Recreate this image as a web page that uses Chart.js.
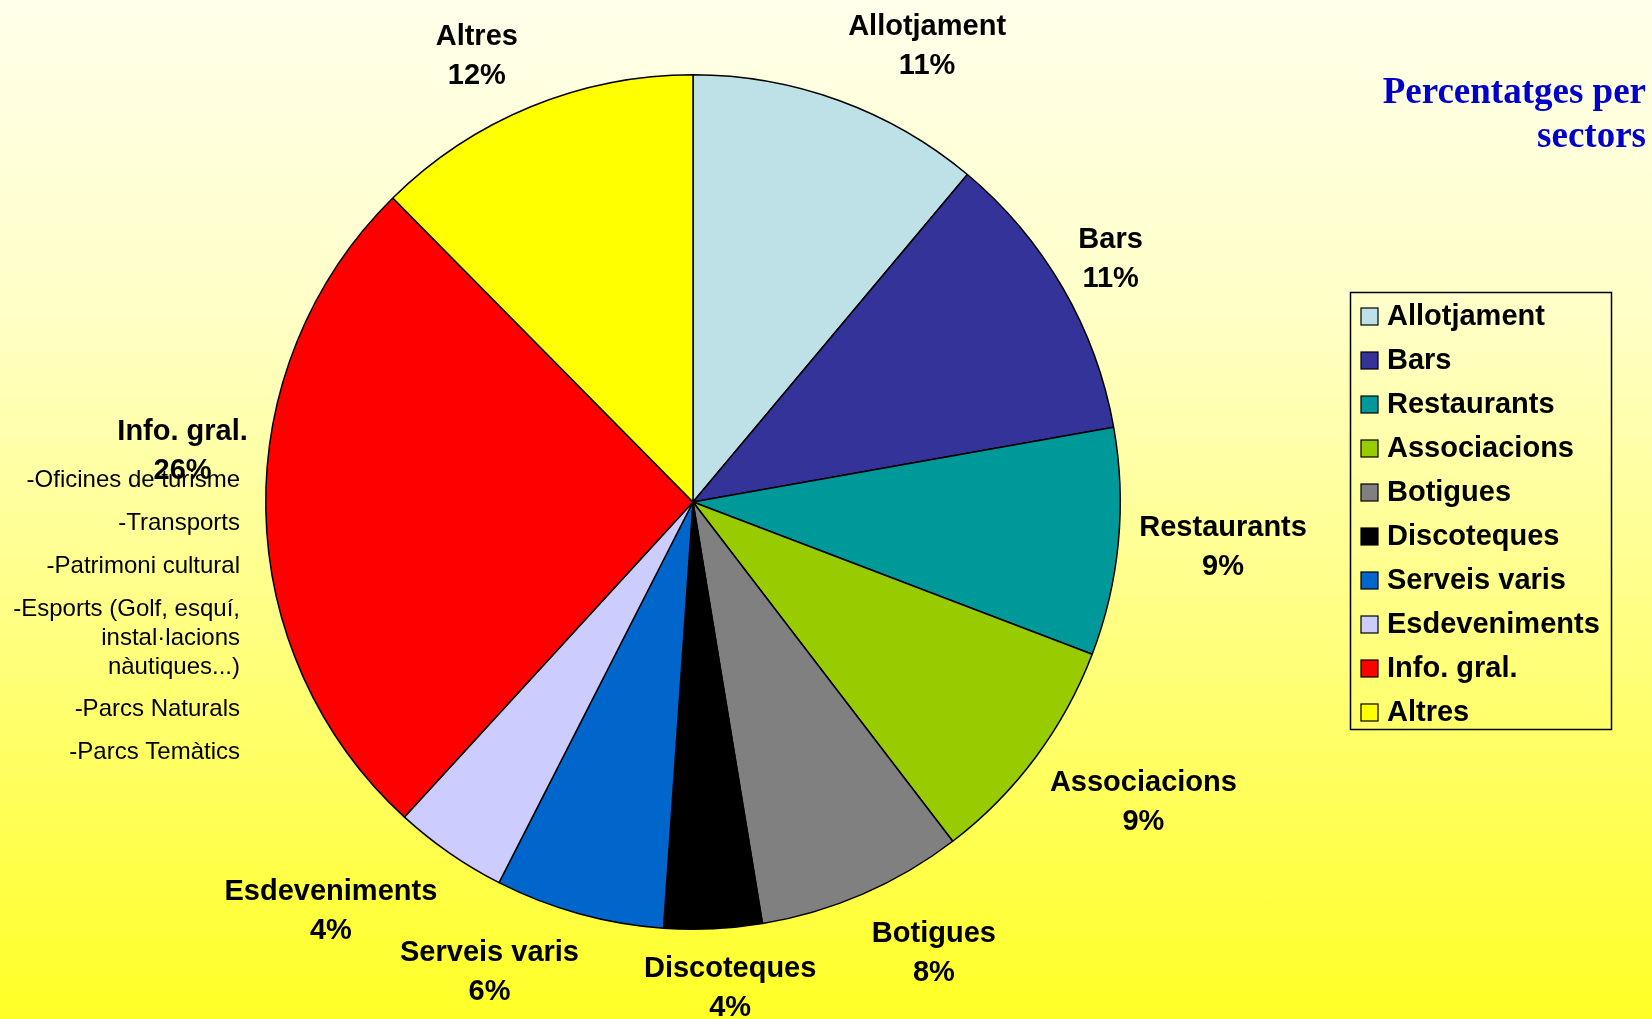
<!DOCTYPE html>
<html>
<head>
<meta charset="utf-8">
<title>Percentatges per sectors</title>
<script src="https://cdn.jsdelivr.net/npm/chart.js@4.4.1/dist/chart.umd.min.js"></script>
<style>
    html, body {
        margin: 0;
        padding: 0;
    }
    #wrap {
        position: relative;
        width: 1652px;
        height: 1019px;
        background: linear-gradient(to bottom, #ffffeb 0%, #ffffc8 30%, #ffff7a 65%, #ffff26 100%);
    }
</style>
</head>
<body>
<div id="wrap">
    <canvas id="sectorChart"></canvas>
</div>
<script>
const sectors = ['Allotjament', 'Bars', 'Restaurants', 'Associacions', 'Botigues', 'Discoteques', 'Serveis varis', 'Esdeveniments', 'Info. gral.', 'Altres'];
const shares = [11.1, 11.1, 8.6, 8.8, 7.8, 3.7, 6.4, 4.3, 25.8, 12.4];
const sliceColors = ['#bde1e6', '#333399', '#009999', '#99cc00', '#808080', '#000000', '#0066cc', '#ccccff', '#ff0000', '#ffff00'];
const titleLines = ['Percentatges per', 'sectors'];
const infoLines = ['-Oficines de turisme', '-Transports', '-Patrimoni cultural', '-Esports (Golf, esquí,', 'instal·lacions', 'nàutiques...)', '-Parcs Naturals', '-Parcs Temàtics'];
const infoLineY = [480, 523, 566, 609, 638, 667, 709, 752];

const LABEL_FONT = 'bold 29px "Liberation Sans", Arial, sans-serif';

// small hand tweaks of label placement, as in the original (Info. gral. was moved up)
const labelNudge = {
    0: [3, -4],
    1: [0, 14],
    2: [3, -7],
    4: [2, 8],
    5: [4, 7],
    6: [-13, 7],
    7: [-2, 9],
    8: [0, -61],
    9: [-6, 0]
};

const sliceLabels = {
    id: 'sliceLabels',
    afterDatasetsDraw(chart) {
        const ctx = chart.ctx;
        const meta = chart.getDatasetMeta(0);
        const total = shares.reduce((a, b) => a + b, 0);

        ctx.save();
        ctx.font = LABEL_FONT;
        ctx.fillStyle = '#000';
        ctx.textAlign = 'center';
        ctx.textBaseline = 'middle';

        meta.data.forEach((arc, i) => {
            const p = arc.getProps(['x', 'y', 'startAngle', 'endAngle', 'outerRadius'], true);
            const mid = (p.startAngle + p.endAngle) / 2;
            const ux = Math.cos(mid);
            const uy = Math.sin(mid);
            const r = p.outerRadius + 18;
            const name = sectors[i];
            const pct = Math.round(shares[i] / total * 100) + '%';
            const w = Math.max(ctx.measureText(name).width, ctx.measureText(pct).width);
            const h = 68;
            const sx = Math.max(-1, Math.min(1, ux * 3));
            const sy = Math.max(-1, Math.min(1, uy * 3));
            let cx = p.x + r * ux + sx * w / 2;
            let cy = p.y + r * uy + sy * h / 2;
            if (labelNudge[i]) {
                cx += labelNudge[i][0];
                cy += labelNudge[i][1];
            }
            ctx.fillText(name, cx, cy - 19);
            ctx.fillText(pct, cx, cy + 20);
        });
        ctx.restore();
    },
    afterDraw(chart) {
        const ctx = chart.ctx;
        ctx.save();

        // legend box
        ctx.strokeStyle = '#000';
        ctx.lineWidth = 1.5;
        ctx.strokeRect(1350.5, 292.5, 261, 437);
        ctx.font = LABEL_FONT;
        ctx.textAlign = 'left';
        ctx.textBaseline = 'middle';
        sectors.forEach((name, i) => {
            const y = 316 + i * 44;
            ctx.fillStyle = sliceColors[i];
            ctx.fillRect(1361, y - 8, 17, 17);
            ctx.lineWidth = 1.2;
            ctx.strokeStyle = '#000';
            ctx.strokeRect(1361, y - 8, 17, 17);
            ctx.fillStyle = '#000';
            ctx.fillText(name, 1387, y + 1);
        });

        // title
        ctx.font = 'bold 37px "Liberation Serif", "Times New Roman", serif';
        ctx.fillStyle = '#0000cc';
        ctx.textAlign = 'right';
        titleLines.forEach((line, i) => {
            ctx.fillText(line, 1646, 93 + i * 44);
        });

        // Info. gral. breakdown
        ctx.font = '24px "Liberation Sans", Arial, sans-serif';
        ctx.fillStyle = '#000';
        infoLines.forEach((line, i) => {
            ctx.fillText(line, 240, infoLineY[i]);
        });
        ctx.restore();
    }
};

let sectorChart;

function drawChart() {
    const chartCtx = document.getElementById('sectorChart').getContext('2d');

    sectorChart = new Chart(chartCtx, {
        type: 'pie',
        data: {
            labels: sectors,
            datasets: [{
                data: shares,
                backgroundColor: sliceColors,
                borderColor: '#000',
                borderWidth: 1.5
            }]
        },
        options: {
            responsive: true,
            maintainAspectRatio: false,
            animation: false,
            layout: {
                padding: { left: 265, right: 531, top: 74, bottom: 89 }
            },
            plugins: {
                legend: { display: false },
                tooltip: { enabled: false }
            }
        },
        plugins: [sliceLabels]
    });
}

try {
    drawChart();
} catch (error) {
    console.error("Error drawing chart:", error);
}
</script>
</body>
</html>
